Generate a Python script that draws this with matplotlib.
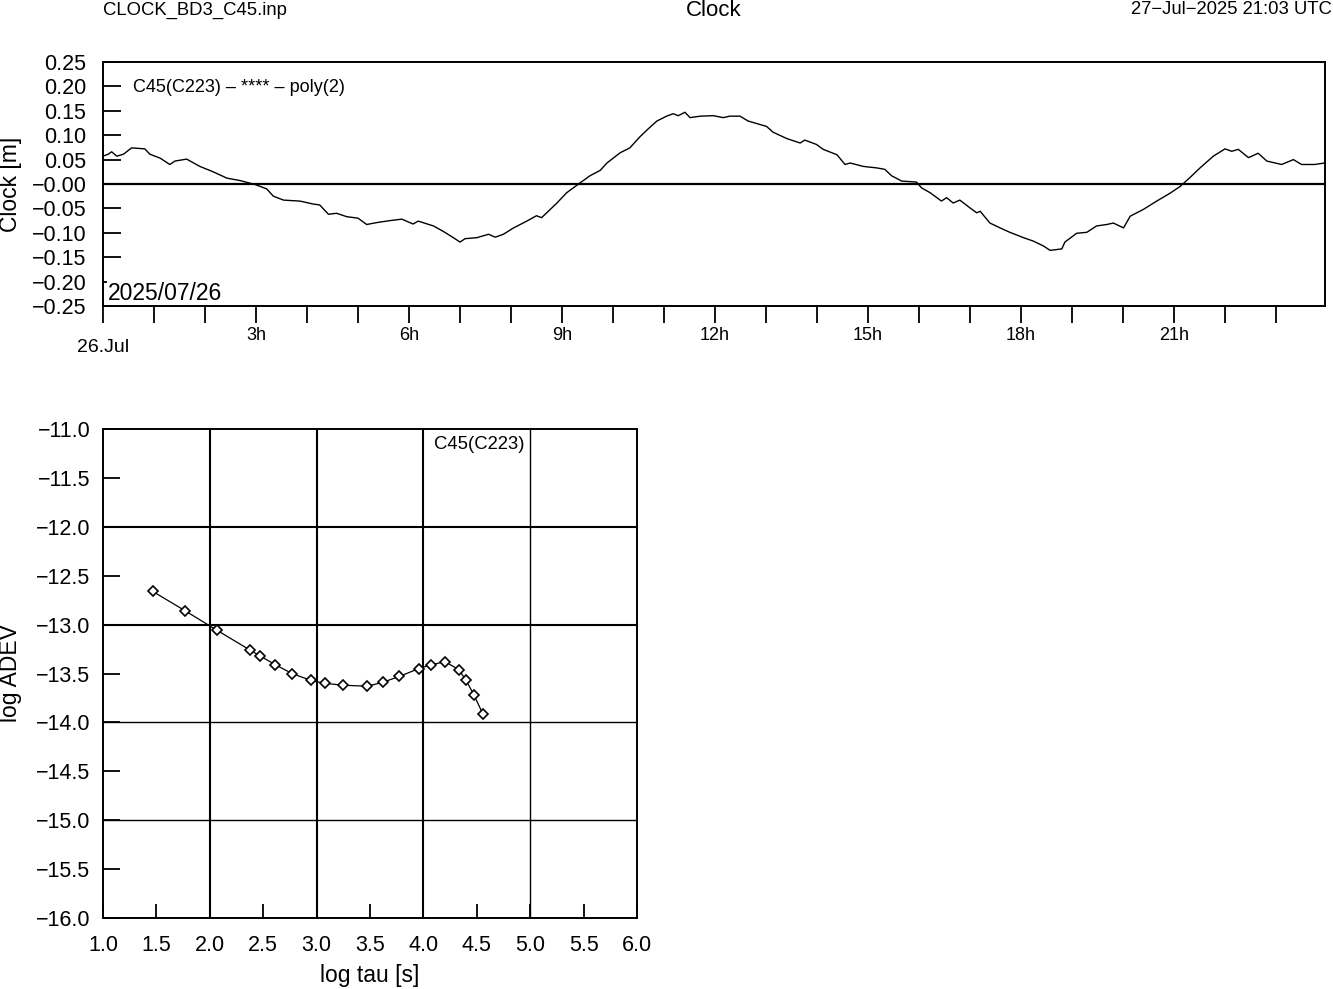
import numpy as np
import matplotlib
matplotlib.use("Agg")
import matplotlib.pyplot as plt
from matplotlib.ticker import FuncFormatter

plt.rcParams['font.family'] = ['Liberation Sans', 'DejaVu Sans']

# clock residuals (hours since 26.Jul 00:00, metres)
hours = [0.00, 0.10, 0.17, 0.27, 0.40, 0.56, 0.82, 0.92, 1.12, 1.31, 1.41, 1.64,
         1.90, 2.16, 2.43, 2.69, 2.98, 3.21, 3.34, 3.54, 3.86, 4.12, 4.25, 4.42,
         4.58, 4.78, 5.00, 5.17, 5.37, 5.63, 5.86, 6.08, 6.18, 6.48, 6.67, 6.87,
         7.00, 7.10, 7.33, 7.56, 7.69, 7.85, 8.05, 8.31, 8.50, 8.60, 8.73, 8.90,
         9.09, 9.35, 9.55, 9.75, 9.88, 10.14, 10.33, 10.53, 10.69, 10.86, 11.05,
         11.18, 11.28, 11.41, 11.51, 11.71, 11.97, 12.16, 12.29, 12.49, 12.65,
         12.88, 13.01, 13.14, 13.41, 13.67, 13.76, 13.99, 14.12, 14.39, 14.55,
         14.65, 14.91, 15.17, 15.33, 15.46, 15.66, 15.95, 16.05, 16.22, 16.44,
         16.54, 16.67, 16.80, 17.00, 17.13, 17.20, 17.39, 17.59, 17.78, 18.05,
         18.24, 18.44, 18.57, 18.80, 18.86, 19.09, 19.29, 19.48, 19.68, 19.81,
         20.01, 20.14, 20.40, 20.66, 20.92, 21.12, 21.31, 21.51, 21.77, 22.00,
         22.13, 22.26, 22.46, 22.65, 22.82, 23.11, 23.34, 23.50, 23.76, 23.95]
clock = [0.057, 0.061, 0.066, 0.057, 0.061, 0.074, 0.072, 0.061, 0.053, 0.040,
         0.047, 0.051, 0.036, 0.025, 0.012, 0.007, -0.001, -0.010, -0.025, -0.033,
         -0.035, -0.041, -0.043, -0.062, -0.060, -0.067, -0.070, -0.083, -0.079,
         -0.075, -0.072, -0.082, -0.076, -0.086, -0.097, -0.110, -0.119, -0.112,
         -0.110, -0.103, -0.109, -0.103, -0.090, -0.076, -0.065, -0.069, -0.056,
         -0.039, -0.018, 0.002, 0.017, 0.028, 0.043, 0.064, 0.074, 0.097, 0.113,
         0.129, 0.139, 0.144, 0.140, 0.147, 0.136, 0.139, 0.140, 0.136, 0.139,
         0.139, 0.129, 0.122, 0.118, 0.106, 0.093, 0.084, 0.090, 0.081, 0.071,
         0.060, 0.040, 0.043, 0.036, 0.033, 0.030, 0.017, 0.006, 0.004, -0.008,
         -0.018, -0.035, -0.028, -0.039, -0.033, -0.049, -0.059, -0.056, -0.080,
         -0.090, -0.099, -0.110, -0.117, -0.127, -0.136, -0.133, -0.119, -0.101,
         -0.099, -0.086, -0.083, -0.080, -0.090, -0.066, -0.052, -0.035, -0.019,
         -0.005, 0.013, 0.033, 0.057, 0.072, 0.067, 0.071, 0.054, 0.063, 0.047,
         0.040, 0.050, 0.040, 0.040, 0.043]

# Allan deviation
log_tau = [1.465, 1.771, 2.070, 2.376, 2.470, 2.613, 2.770, 2.945, 3.075, 3.250,
           3.475, 3.620, 3.775, 3.956, 4.075, 4.205, 4.330, 4.400, 4.474, 4.555]
log_adev = [-12.66, -12.86, -13.06, -13.26, -13.32, -13.41, -13.50, -13.57, -13.60,
            -13.62, -13.63, -13.59, -13.53, -13.45, -13.41, -13.38, -13.46, -13.57,
            -13.72, -13.91]

MINUS = '\u2212'


def fmt2(v, pos):
    s = '%.2f' % abs(v)
    # the reference prints the zero line as "-0.00"
    return MINUS + s if v < 0 or abs(v) < 1e-9 else s


def fmt1(v, pos):
    s = '%.1f' % abs(v)
    return MINUS + s if v < 0 else s


W, H = 1333, 989
fig = plt.figure(figsize=(W / 100, H / 100), dpi=100)

# ---- top panel: clock
ax1 = fig.add_axes([103 / W, 1 - 306 / H, 1222 / W, 244 / H])
ax1.plot(hours, clock, color='black', lw=1.0)
ax1.axhline(0, color='black', lw=1.6)
ax1.set_xlim(0, 23.96)
ax1.set_ylim(-0.25, 0.25)
ax1.set_yticks(np.arange(-0.25, 0.251, 0.05))
ax1.yaxis.set_major_formatter(FuncFormatter(fmt2))
ax1.set_xticks(range(0, 24, 3))
ax1.set_xticklabels([''] + ['%dh' % h for h in range(3, 24, 3)])
ax1.set_xticks(range(0, 24), minor=True)
ax1.tick_params(axis='y', direction='in', length=13, width=1.3, labelsize=15.5, pad=12,
                right=False)
ax1.tick_params(axis='x', which='both', direction='out', length=12, width=1.3,
                labelsize=13, pad=3, top=False)
for s in ax1.spines.values():
    s.set_linewidth(1.4)
ax1.annotate('26.Jul', xy=(0, 0), xycoords='axes fraction', xytext=(0, -24),
             textcoords='offset points', ha='center', va='top', fontsize=14)
fig.text(133 / W, 1 - 88 / H, 'C45(C223) \u2013 **** \u2013 poly(2)',
         ha='left', va='center', fontsize=13)
# date stamp sits over the -0.20 tick but under the spines
ax1.text(0.004, 0.006, '2025/07/26', transform=ax1.transAxes, ha='left', va='bottom',
         fontsize=16.5, zorder=2,
         bbox=dict(facecolor='white', edgecolor='none', pad=1))
fig.text(11 / W, 1 - 184 / H, 'Clock [m]', rotation=90, ha='center', va='center',
         fontsize=16.5)

# ---- bottom panel: ADEV
ax2 = fig.add_axes([103 / W, 1 - 918 / H, 534 / W, 489 / H])
for g in [2, 3, 4]:
    ax2.axvline(g, color='black', lw=1.5, zorder=1)
ax2.axvline(5, color='black', lw=1.0, zorder=1)
for g in [-12, -13]:
    ax2.axhline(g, color='black', lw=1.5, zorder=1)
for g in [-14, -15]:
    ax2.axhline(g, color='black', lw=1.0, zorder=1)
ax2.plot(log_tau, log_adev, color='black', lw=0.9, marker='D', markersize=5,
         markerfacecolor='white', markeredgecolor='black', markeredgewidth=1.2, zorder=3)
ax2.set_xlim(1.0, 6.0)
ax2.set_ylim(-16.0, -11.0)
ax2.set_xticks(np.arange(1.0, 6.01, 0.5))
ax2.set_yticks(np.arange(-16.0, -10.99, 0.5))
ax2.xaxis.set_major_formatter(FuncFormatter(fmt1))
ax2.yaxis.set_major_formatter(FuncFormatter(fmt1))
ax2.tick_params(axis='y', direction='in', length=12, width=1.3, labelsize=15.5, pad=9,
                right=False)
ax2.tick_params(axis='x', direction='in', length=10, width=1.3, labelsize=15.5, pad=12,
                top=False)
for s in ax2.spines.values():
    s.set_linewidth(1.4)
ax2.set_xlabel('log tau [s]', fontsize=16.5, labelpad=6)
fig.text(11 / W, 1 - 673 / H, 'log ADEV', rotation=90, ha='center', va='center',
         fontsize=16.5)
ax2.text(0.62, 0.985, 'C45(C223)', transform=ax2.transAxes, ha='left', va='top',
         fontsize=13.3)

# ---- header
fig.text(103 / W, 1 - 10 / H, 'CLOCK_BD3_C45.inp', ha='left', va='center', fontsize=13.3)
fig.text(714 / W, 1 - 10 / H, 'Clock', ha='center', va='center', fontsize=16)
fig.text(1332 / W, 1 - 10 / H, '27' + MINUS + 'Jul' + MINUS + '2025 21:03 UTC',
         ha='right', va='center', fontsize=13.3)

fig.savefig('out.png', dpi=100)
